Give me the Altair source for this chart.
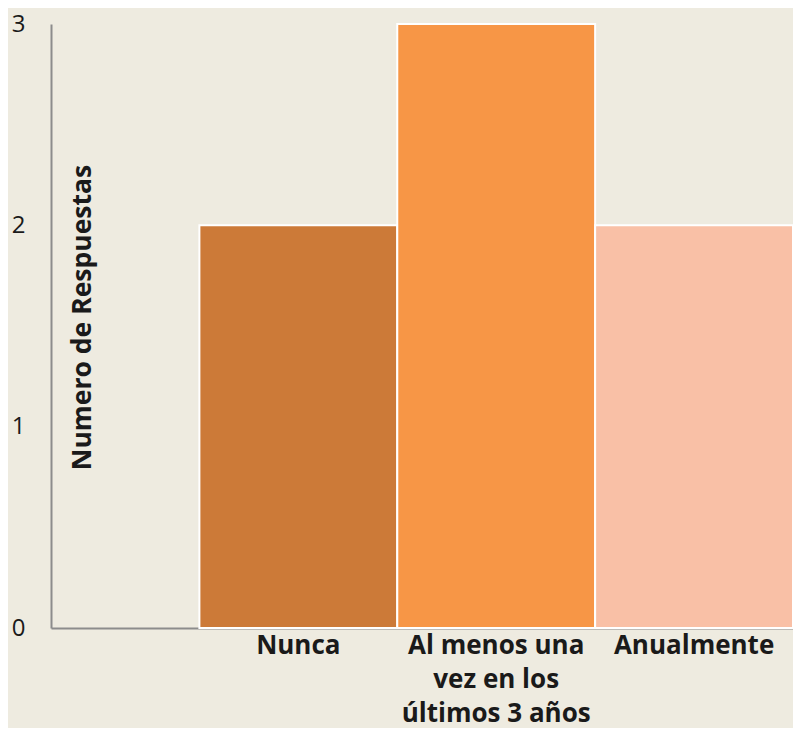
import altair as alt
import pandas as pd

categories = ["Nunca", "Al menos una vez en los últimos 3 años", "Anualmente"]
responses = [2, 3, 2]
y_ticks = [0, 1, 2, 3]
bar_colors = ["#CC7A38", "#F79646", "#F9C0A6"]

df = pd.DataFrame({"categoria": categories, "respuestas": responses})

label_expr = (
    "datum.label == 'Al menos una vez en los últimos 3 años' ? "
    "['Al menos una', 'vez en los', 'últimos 3 años'] : datum.label"
)

chart = alt.Chart(df).mark_bar(stroke="white", strokeWidth=2).encode(
    x=alt.X(
        "categoria:N",
        sort=categories,
        scale=alt.Scale(paddingInner=0, paddingOuter=0.375, align=1),
        axis=alt.Axis(
            title=None,
            labelExpr=label_expr,
            labelAngle=0,
            labelAlign="center",
            labelBaseline="top",
            labelPadding=4,
            labelLineHeight=34,
            labelFont="Open Sans",
            labelFontWeight="bold",
            labelFontSize=26,
            labelColor="#1a1a1a",
            labelLimit=400,
            labelOverlap=False,
            ticks=False,
            domainColor="#8c8c8c",
            domainWidth=2,
        ),
    ),
    y=alt.Y(
        "respuestas:Q",
        scale=alt.Scale(domain=[0, 3], nice=False),
        axis=alt.Axis(
            title="Numero de Respuestas",
            values=y_ticks,
            format="d",
            grid=False,
            ticks=False,
            labelPadding=26,
            labelFont="Open Sans",
            labelFontSize=24,
            labelColor="#1a1a1a",
            domainColor="#8c8c8c",
            domainWidth=2,
            titleFont="Open Sans",
            titleFontWeight="bold",
            titleFontSize=26.5,
            titleColor="#1a1a1a",
            titleAngle=270,
            titleAlign="center",
            titleBaseline="middle",
            titleX=31,
            titleY=293,
        ),
    ),
    color=alt.Color(
        "categoria:N",
        scale=alt.Scale(domain=categories, range=bar_colors),
        legend=None,
    ),
).properties(
    width=742,
    height=604,
    background="#EEEBE0",
    autosize=alt.AutoSizeParams(type="none"),
    padding={"left": 43, "top": 16, "right": 0, "bottom": 100},
).configure_view(stroke=None)

chart.save("out.html", embed_options={"renderer": "svg", "actions": False})
